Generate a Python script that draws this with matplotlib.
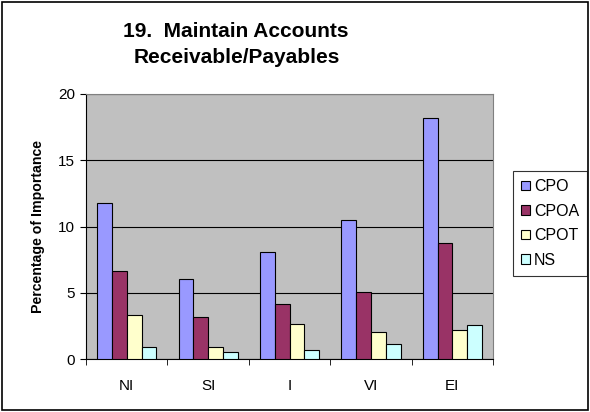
import numpy as np
import matplotlib
matplotlib.use("Agg")
import matplotlib.pyplot as plt
from matplotlib.patches import Rectangle

categories = ["NI", "SI", "I", "VI", "EI"]
series_names = ["CPO", "CPOA", "CPOT", "NS"]
cpo = [11.76, 6.07, 8.09, 10.52, 18.16]
cpoa = [6.65, 3.16, 4.14, 5.05, 8.79]
cpot = [3.36, 0.95, 2.68, 2.03, 2.23]
ns = [0.95, 0.57, 0.68, 1.15, 2.61]
colors = ["#9999FF", "#993366", "#FFFFCC", "#CCFFFF"]

plt.rcParams['font.family'] = ['Liberation Sans', 'DejaVu Sans']

fig = plt.figure(figsize=(5.9, 4.12), dpi=100)
ax = fig.add_axes([86/590, 1-359.3/412, (493-86)/590, (359.3-94)/412])
ax.set_facecolor("#C0C0C0")

x = np.arange(len(categories))
w = 1/5.5
for i, (vals, c, name) in enumerate(zip([cpo, cpoa, cpot, ns], colors, series_names)):
    ax.bar(x - 1.5*w + i*w, vals, w, color=c, edgecolor="black", linewidth=0.8,
           label=name, zorder=3)

ax.set_xlim(-0.5, len(categories)-0.5)
ax.set_ylim(0, 20)
ax.set_yticks([0, 5, 10, 15, 20])
ax.yaxis.grid(True, color="black", linewidth=0.8, zorder=0)
ax.set_axisbelow(True)

ax.set_xticks(x)
ax.set_xticklabels(categories, fontsize=11)
ax.set_xticks(np.arange(-0.5, len(categories)), minor=True)
ax.tick_params(axis="x", which="major", length=0, pad=14)
ax.tick_params(axis="x", which="minor", length=4, direction="out", color="black")
ax.tick_params(axis="y", length=4, direction="out", labelsize=11, pad=4)

for s in ["top", "right"]:
    ax.spines[s].set_color("#808080")
ax.spines["left"].set_color("black")
ax.spines["bottom"].set_color("black")

ax.set_ylabel("Percentage of Importance", fontsize=10.2, fontweight="bold", labelpad=9)

fig.text(236/590, 1-37/412, "19.  Maintain Accounts", ha="center", va="baseline",
         fontsize=15, fontweight="bold")
fig.text(237/590, 1-63/412, "Receivable/Payables", ha="center", va="baseline",
         fontsize=15, fontweight="bold")

leg = fig.legend(loc="upper left", bbox_to_anchor=(513/590, 1-171/412),
                 fontsize=11.5, frameon=True, fancybox=False, edgecolor="black",
                 handlelength=0.55, handleheight=0.55, handletextpad=0.25,
                 labelspacing=0.6, borderpad=0.5, borderaxespad=0)
leg.get_frame().set_linewidth(0.8)

fig.patches.append(Rectangle((0.004, 0.004), 0.992, 0.992, transform=fig.transFigure,
                             fill=False, edgecolor="black", linewidth=1.2))

fig.savefig("out.png", dpi=100)
